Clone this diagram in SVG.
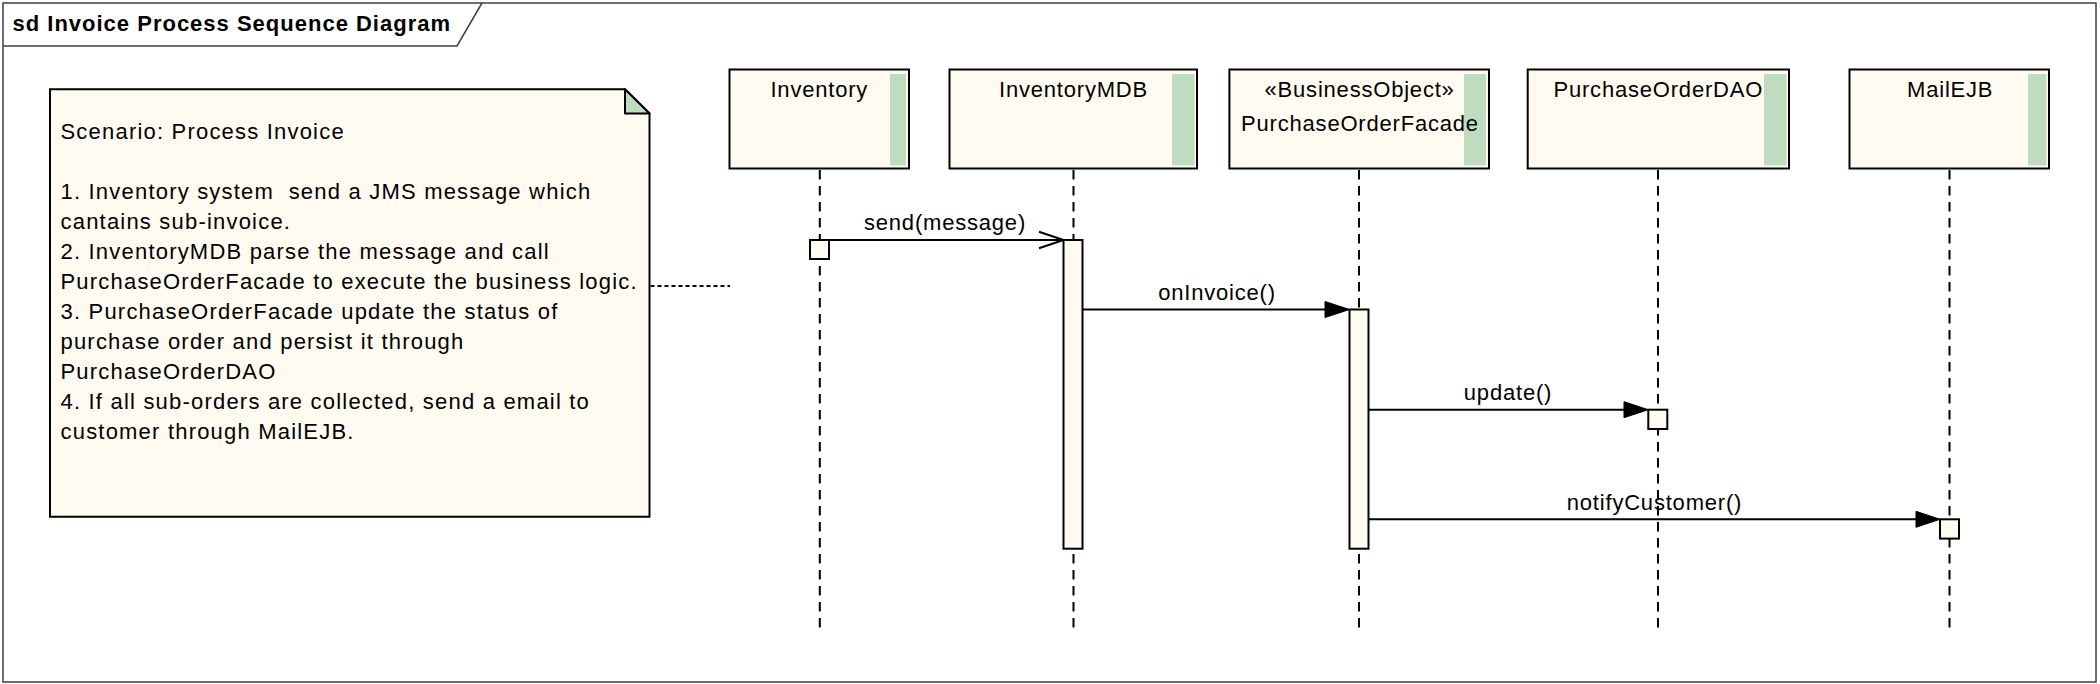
<svg xmlns="http://www.w3.org/2000/svg" width="2100" height="684" viewBox="0 0 2100 684">
<style>
text{font-family:"Liberation Sans",Arial,sans-serif;font-size:22px;fill:#000;letter-spacing:0.8px}
.title{font-weight:bold;letter-spacing:1px}
.note-text{letter-spacing:1.2px}
.box{fill:#FFFBF0;stroke:#000;stroke-width:2}
.bar{fill:#C0DCC0;stroke:none}
.life{stroke:#000;stroke-width:2;stroke-dasharray:9.5 6.5;fill:none}
.act{fill:#FFFBF0;stroke:#000;stroke-width:2}
.msg{stroke:#000;stroke-width:2;fill:none}
.head{fill:#000;stroke:#000;stroke-width:1}
.mid{text-anchor:middle}
</style>
<rect x="0" y="0" width="2100" height="684" fill="#fff"/>
<g id="frame">
<rect x="3" y="3" width="2093" height="679" fill="none" stroke="#404040" stroke-width="1.5"/>
<polyline points="3,46 457,46 482,3" fill="none" stroke="#404040" stroke-width="1.5"/>
<text class="title" x="12.5" y="30.7">sd Invoice Process Sequence Diagram</text>
</g>
<g id="note">
<polygon class="box" points="50,89.3 625,89.3 649.5,113.5 649.5,516.7 50,516.7"/>
<polygon points="625,89.3 649.5,113.5 625,113.5" fill="#C0DCC0" stroke="#000" stroke-width="2" stroke-linejoin="round"/>
<text class="note-text" x="60.5" y="138.6">Scenario: Process Invoice</text>
<text class="note-text" x="60.5" y="198.6" xml:space="preserve">1. Inventory system  send a JMS message which</text>
<text class="note-text" x="60.5" y="228.6">cantains sub-invoice.</text>
<text class="note-text" x="60.5" y="258.6">2. InventoryMDB parse the message and call</text>
<text class="note-text" x="60.5" y="288.6">PurchaseOrderFacade to execute the business logic.</text>
<text class="note-text" x="60.5" y="318.6">3. PurchaseOrderFacade update the status of</text>
<text class="note-text" x="60.5" y="348.6">purchase order and persist it through</text>
<text class="note-text" x="60.5" y="378.6">PurchaseOrderDAO</text>
<text class="note-text" x="60.5" y="408.6">4. If all sub-orders are collected, send a email to</text>
<text class="note-text" x="60.5" y="438.6">customer through MailEJB.</text>
</g>
<g id="lifeline-inventory">
<rect class="box" x="729.5" y="69.5" width="179.5" height="99"/>
<rect class="bar" x="890" y="74" width="16" height="91.5"/>
<text class="mid" x="819.3" y="96.7">Inventory</text>
<line class="life" x1="819.8" y1="170" x2="819.8" y2="627.5"/>
<rect class="act" x="810" y="240" width="19" height="19"/>
</g>
<g id="lifeline-inventorymdb">
<rect class="box" x="949.5" y="69.5" width="247.5" height="99"/>
<rect class="bar" x="1172" y="74" width="22.6" height="91.5"/>
<text class="mid" x="1073.5" y="96.7">InventoryMDB</text>
<line class="life" x1="1073.5" y1="170" x2="1073.5" y2="627.5"/>
<rect class="act" x="1063.5" y="240" width="19" height="308.7"/>
</g>
<g id="lifeline-purchaseorderfacade">
<rect class="box" x="1229.4" y="69.5" width="259.6" height="99"/>
<rect class="bar" x="1464" y="74" width="22" height="91.5"/>
<text class="mid" x="1359.6" y="96.7">«BusinessObject»</text>
<text class="mid" x="1360" y="131">PurchaseOrderFacade</text>
<line class="life" x1="1359" y1="170" x2="1359" y2="627.5"/>
<rect class="act" x="1349.5" y="309.5" width="19" height="239.2"/>
</g>
<g id="lifeline-purchaseorderdao">
<rect class="box" x="1527.7" y="69.5" width="261.3" height="99"/>
<rect class="bar" x="1764" y="74" width="22.6" height="91.5"/>
<text class="mid" x="1658.3" y="96.7">PurchaseOrderDAO</text>
<line class="life" x1="1658" y1="170" x2="1658" y2="627.5"/>
<rect class="act" x="1648.3" y="409.7" width="19" height="19.3"/>
</g>
<g id="lifeline-mailejb">
<rect class="box" x="1849.5" y="69.5" width="199.5" height="99"/>
<rect class="bar" x="2028" y="74" width="18.4" height="91.5"/>
<text class="mid" x="1950.2" y="96.7">MailEJB</text>
<line class="life" x1="1949.5" y1="170" x2="1949.5" y2="627.5"/>
<rect class="act" x="1940" y="519.3" width="19" height="19.3"/>
</g>
<g id="connectors">
<line x1="650.5" y1="286" x2="730" y2="286" stroke="#000" stroke-width="2" stroke-dasharray="4 3"/>
<line class="msg" x1="829" y1="240" x2="1063.5" y2="240"/>
<polyline class="msg" points="1039,231.7 1063.5,240 1039,248.3"/>
<text class="mid" x="945" y="230">send(message)</text>
<line class="msg" x1="1082.5" y1="309.5" x2="1330" y2="309.5"/>
<polygon class="head" points="1325,301.5 1349.5,309.5 1325,317.5"/>
<text class="mid" x="1217" y="300">onInvoice()</text>
<line class="msg" x1="1368.5" y1="409.7" x2="1630" y2="409.7"/>
<polygon class="head" points="1624,401.7 1648.3,409.7 1624,417.7"/>
<text class="mid" x="1508" y="400">update()</text>
<line class="msg" x1="1368.5" y1="519.3" x2="1920" y2="519.3"/>
<polygon class="head" points="1916,511.3 1940,519.3 1916,527.3"/>
<text class="mid" x="1654.5" y="510">notifyCustomer()</text>
</g>
</svg>
